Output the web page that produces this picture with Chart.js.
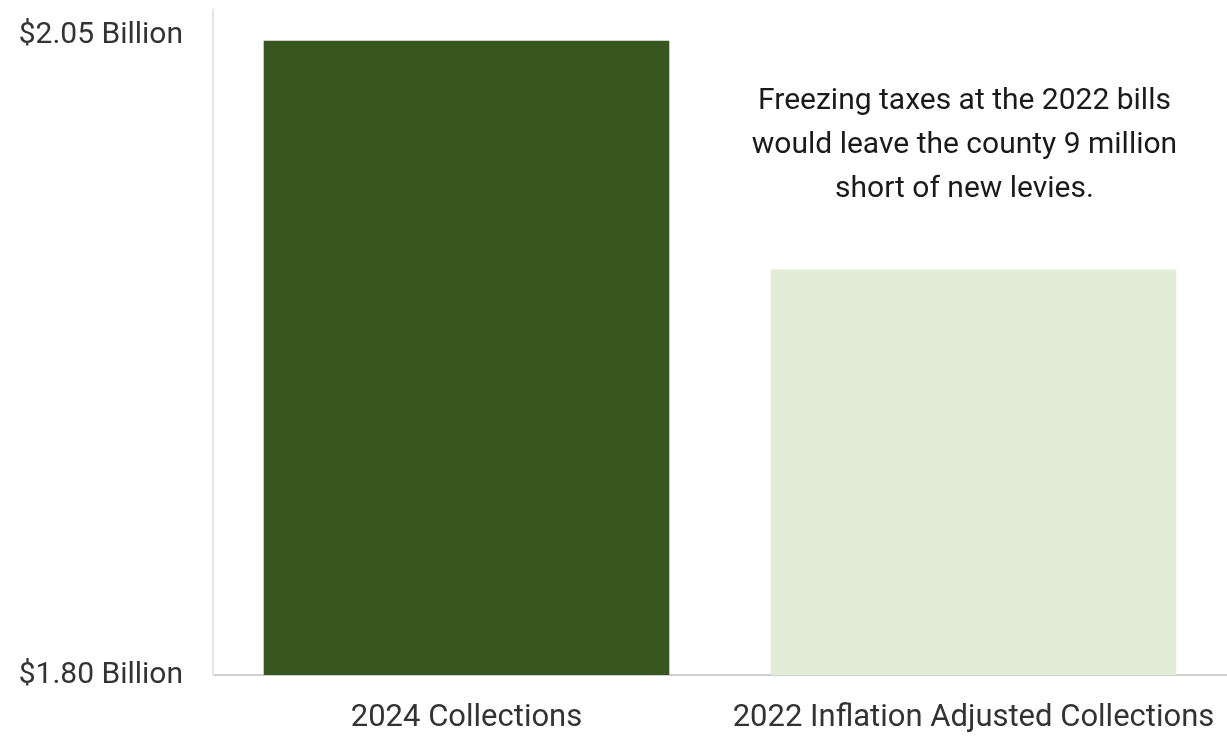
<!DOCTYPE html>
<html>
<head>
<meta charset="utf-8">
<script src="https://cdn.jsdelivr.net/npm/chart.js@4.4.0/dist/chart.umd.min.js"></script>
<style>
  html, body { margin: 0; padding: 0; background: #fff; }
  #wrap { width: 1227px; height: 736px; position: relative; }
</style>
</head>
<body>
<div id="wrap"><canvas id="c"></canvas></div>
<script>
// values in billions of dollars
const categories = ['2024 Collections', '2022 Inflation Adjusted Collections'];
const collections = [2.048, 1.9585];
const barColors = ['#38561f', '#e1edd6'];
const yTicks = [1.80, 2.05];
const note = ['Freezing taxes at the 2022 bills', 'would leave the county 9 million', 'short of new levies.'];

const fontFamily = 'Roboto, "Noto Sans", sans-serif';

// annotation text drawn over the second bar's column
const notePlugin = {
  id: 'note',
  afterDraw(chart) {
    const ctx = chart.ctx;
    const x = chart.scales.x.getPixelForValue(1) - 9;
    const top = chart.chartArea.top + 91;
    ctx.save();
    ctx.font = '400 30px ' + fontFamily;
    ctx.fillStyle = '#1a1a1a';
    ctx.textAlign = 'center';
    ctx.textBaseline = 'middle';
    note.forEach((line, i) => ctx.fillText(line, x, top + i * 44));
    ctx.restore();
  }
};

new Chart(document.getElementById('c'), {
  type: 'bar',
  data: {
    labels: categories,
    datasets: [{
      data: collections,
      backgroundColor: barColors,
      borderWidth: 0,
      categoryPercentage: 0.8,
      barPercentage: 1.0
    }]
  },
  options: {
    responsive: true,
    maintainAspectRatio: false,
    animation: false,
    layout: { padding: { top: 10, right: 0, left: 0, bottom: 0 } },
    plugins: {
      legend: { display: false },
      tooltip: { enabled: false }
    },
    scales: {
      x: {
        grid: { display: false, drawTicks: false },
        border: { color: '#d0d0d0', width: 2 },
        ticks: { color: '#333', font: { family: fontFamily, size: 31 }, padding: 25 },
        afterFit(scale) {
          scale.height = 61;
          scale.paddingLeft = 0;
          scale.paddingRight = 0;
        }
      },
      y: {
        min: 1.80,
        max: 2.06,
        grid: { display: false, drawTicks: false },
        border: { color: '#e6e6e6', width: 2 },
        afterBuildTicks(scale) { scale.ticks = yTicks.map(v => ({ value: v })); },
        ticks: {
          color: '#333',
          font: { family: fontFamily, size: 30 },
          padding: 30,
          callback: v => '$' + Number(v).toFixed(2) + ' Billion'
        },
        afterFit(scale) {
          scale.width = 213;
          scale.paddingTop = 0;
          scale.paddingBottom = 0;
        }
      }
    }
  },
  plugins: [notePlugin]
});
</script>
</body>
</html>
